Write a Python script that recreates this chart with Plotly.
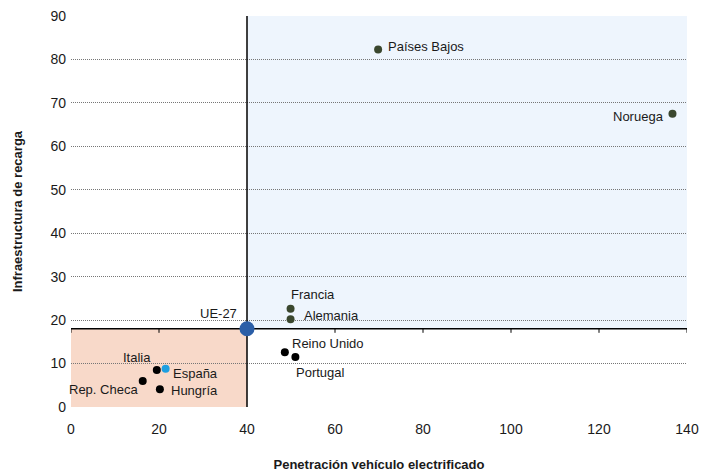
import plotly.graph_objects as go

# Países y valores (penetración de vehículo electrificado vs. infraestructura de recarga)
paises = ["Países Bajos", "Noruega", "Francia", "Alemania", "Reino Unido",
          "Portugal", "Italia", "España", "Rep. Checa", "Hungría"]
penetracion = [69.8, 136.7, 49.9, 49.9, 48.6, 51.0, 19.5, 21.5, 16.3, 20.2]
infraestructura = [82.3, 67.5, 22.6, 20.2, 12.6, 11.5, 8.5, 8.8, 6.0, 4.1]
grupo = ["lider", "lider", "lider", "lider", "medio",
         "medio", "medio", "espana", "medio", "medio"]

ue_nombre = "UE-27"
ue_x = 40.0
ue_y = 18.0

x_ticks = [0, 20, 40, 60, 80, 100, 120, 140]
y_ticks = [0, 10, 20, 30, 40, 50, 60, 70, 80, 90]
x_max = 140
y_max = 90

colores = {"lider": "#3a472e", "medio": "#000000", "espana": "#1e9fe0"}

# Posición de cada etiqueta respecto a su punto (anclaje, desplazamiento en px)
etiquetas = {
    "Países Bajos": ("left", 8, 3),
    "Noruega": ("right", -6, -3),
    "Francia": ("left", -2, 14),
    "Alemania": ("left", 11, 4),
    "Reino Unido": ("left", 5, 9),
    "Portugal": ("left", -1, -15),
    "Italia": ("right", -4, 13),
    "España": ("left", 5, -5),
    "Rep. Checa": ("right", -3, -9),
    "Hungría": ("left", 9, -1),
}

fuente = "Liberation Sans, Arial, sans-serif"

fig = go.Figure()

fig.add_trace(go.Scatter(
    x=penetracion, y=infraestructura, mode="markers",
    marker=dict(size=8, color=[colores[g] for g in grupo], line=dict(width=0)),
    hovertext=paises, showlegend=False,
))
fig.add_trace(go.Scatter(
    x=[ue_x], y=[ue_y], mode="markers",
    marker=dict(size=15, color="#2b5ea7", line=dict(width=0)),
    hovertext=[ue_nombre], showlegend=False,
))

# Cuadrantes sombreados
fig.add_shape(type="rect", x0=ue_x, x1=x_max, y0=ue_y, y1=y_max,
              fillcolor="#eef5fd", line=dict(width=0), layer="below")
fig.add_shape(type="rect", x0=0, x1=ue_x, y0=0, y1=ue_y,
              fillcolor="#f8d9c9", line=dict(width=0), layer="below")

# Ejes cruzados en la media de la UE
fig.add_shape(type="line", x0=ue_x, x1=ue_x, y0=0, y1=y_max,
              line=dict(color="#000000", width=1.5), layer="between")
fig.add_shape(type="line", x0=0, x1=x_max, y0=ue_y, y1=ue_y,
              line=dict(color="#000000", width=1.5), layer="between")
for t in x_ticks:
    fig.add_shape(type="line", xref="x", yref="y", ysizemode="pixel",
                  yanchor=ue_y, x0=t, x1=t, y0=0, y1=-4,
                  line=dict(color="#000000", width=1), layer="between")

for nombre, px, py in zip(paises, penetracion, infraestructura):
    anc, dx, dy = etiquetas[nombre]
    fig.add_annotation(x=px, y=py, text=nombre, showarrow=False,
                       xanchor=anc, yanchor="middle", xshift=dx, yshift=dy,
                       font=dict(size=13, color="#1a1a1a", family=fuente))
fig.add_annotation(x=ue_x, y=ue_y, text=ue_nombre, showarrow=False,
                   xanchor="right", yanchor="middle", xshift=-8, yshift=15,
                   font=dict(size=13, color="#1a1a1a", family=fuente))

fig.update_layout(
    width=712, height=472,
    margin=dict(l=71, r=25, t=16, b=65),
    paper_bgcolor="white", plot_bgcolor="white",
    font=dict(family=fuente, size=14, color="#1a1a1a"),
    xaxis=dict(
        range=[0, x_max], tickvals=x_ticks, showgrid=False, zeroline=False,
        showline=False, ticks="", tickfont=dict(size=14), ticklabelstandoff=12,
        automargin=False,
        title=dict(text="<b>Penetración vehículo electrificado</b>",
                   font=dict(size=13), standoff=25),
    ),
    yaxis=dict(
        range=[0, y_max], tickvals=y_ticks, showgrid=True, gridcolor="#767676",
        griddash="1px,1px", gridwidth=1, zeroline=False, showline=False, ticks="",
        tickfont=dict(size=14), ticklabelstandoff=4, automargin=False,
        title=dict(text="<b>Infraestructura de recarga</b>",
                   font=dict(size=13), standoff=24),
    ),
)

fig.write_html("out.html")
